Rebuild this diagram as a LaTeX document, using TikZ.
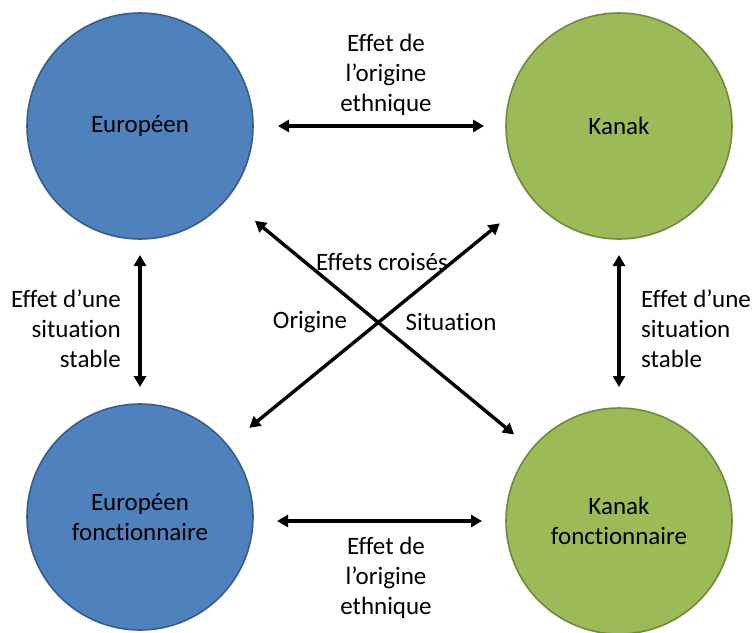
\documentclass[tikz,border=0pt]{standalone}
\usepackage{fontspec}
\setmainfont{Carlito}[Ligatures=NoCommon]
\usetikzlibrary{arrows.meta}
\definecolor{eublue}{HTML}{4F81BD}
\definecolor{eublueline}{HTML}{385D8A}
\definecolor{kagreen}{HTML}{9BBB59}
\definecolor{kagreenline}{HTML}{71893F}
\tikzset{
  blob/.style={circle, minimum size=226pt, inner sep=0pt, outer sep=0pt, line width=1.6pt, align=center, font=\fontsize{25}{30.5}\selectfont},
  euro/.style={blob, fill=eublue, draw=eublueline},
  kanak/.style={blob, fill=kagreen, draw=kagreenline},
  arr/.style={line width=3.4pt, {Triangle[length=11pt,width=12pt]}-{Triangle[length=11pt,width=12pt]}},
  lbl/.style={font=\fontsize{25}{30}\selectfont, inner sep=0pt}
}
\begin{document}
\begin{tikzpicture}[x=1pt,y=-1pt]
\useasboundingbox (0,0) rectangle (752,632);
\node[euro] (tl) at (140,126) {Européen};
\node[kanak] (tr) at (619,126) {Kanak};
\node[euro] (bl) at (140,517) {Européen\\fonctionnaire};
\node[kanak] (br) at (619,521) {Kanak\\fonctionnaire};
% horizontal
\draw[arr, shorten <=25pt, shorten >=22pt] (tl.east) -- (tr.west);
\draw[arr, shorten <=24pt, shorten >=24pt] (bl.east |- br.west) -- (br.west);
% vertical
\draw[arr, shorten <=16pt, shorten >=17pt] (tl.south) -- (bl.north);
\draw[arr, shorten <=16pt, shorten >=21pt] (tr.south) -- (br.north);
% diagonals
\draw[arr, shorten <=36pt, shorten >=23pt] (tl) -- (br);
\draw[arr, shorten <=41pt, shorten >=28pt] (tr) -- (bl);
% labels
\node[lbl, align=center] (lt) at (386,75) {Effet de\\l’origine\\ethnique};
\node[lbl, align=center] (lb) at (386,578) {Effet de\\l’origine\\ethnique};
\node[lbl, align=right, anchor=east] (ll) at (121,329) {Effet d’une\\situation\\stable};
\node[lbl, align=left, anchor=west] (lr) at (641,329) {Effet d’une\\situation\\stable};
\node[lbl] (cr) at (382,262) {Effets croisés};
\node[lbl] (og) at (310,322) {Origine};
\node[lbl] (si) at (451,322) {Situation};
\end{tikzpicture}
\end{document}
